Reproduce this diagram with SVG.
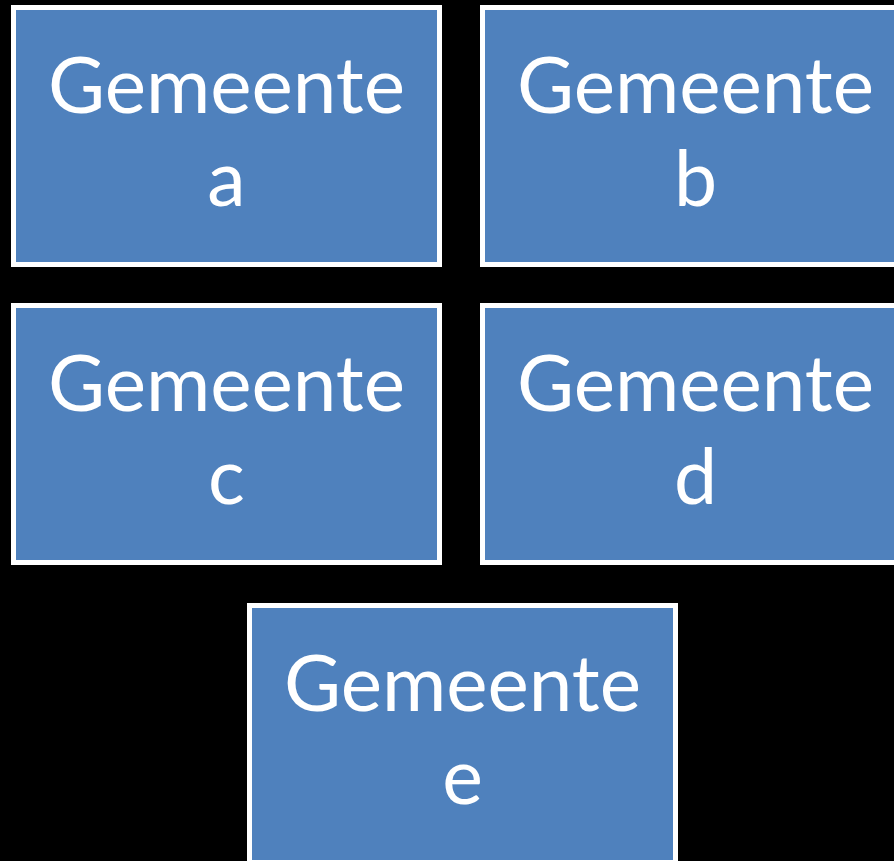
<svg xmlns="http://www.w3.org/2000/svg" width="894" height="861" viewBox="0 0 894 861">
<style>
.box{fill:#4F81BD;stroke:#FFFFFF;stroke-width:5}
.t{fill:#FFFFFF;font-family:Lato,"Open Sans","Liberation Sans",sans-serif;font-size:77px;text-anchor:middle}
</style>
<rect x="0" y="0" width="894" height="861" fill="#000000"/>
<g id="connectors"></g>
<g id="node-a">
<rect class="box" x="13.5" y="7.5" width="426" height="257"/>
<text class="t"><tspan x="226.5" y="113" textLength="357" lengthAdjust="spacingAndGlyphs">Gemeente</tspan><tspan x="226.5" y="206">a</tspan></text>
</g>
<g id="node-b">
<rect class="box" x="482.5" y="7.5" width="426" height="257"/>
<text class="t"><tspan x="695.5" y="113" textLength="357" lengthAdjust="spacingAndGlyphs">Gemeente</tspan><tspan x="695.5" y="206">b</tspan></text>
</g>
<g id="node-c">
<rect class="box" x="13.5" y="305.5" width="426" height="257"/>
<text class="t"><tspan x="226.5" y="411" textLength="357" lengthAdjust="spacingAndGlyphs">Gemeente</tspan><tspan x="226.5" y="504">c</tspan></text>
</g>
<g id="node-d">
<rect class="box" x="482.5" y="305.5" width="426" height="257"/>
<text class="t"><tspan x="695.5" y="411" textLength="357" lengthAdjust="spacingAndGlyphs">Gemeente</tspan><tspan x="695.5" y="504">d</tspan></text>
</g>
<g id="node-e">
<rect class="box" x="249.5" y="605.5" width="426" height="257"/>
<text class="t"><tspan x="462.5" y="711" textLength="357" lengthAdjust="spacingAndGlyphs">Gemeente</tspan><tspan x="462.5" y="804">e</tspan></text>
</g>
</svg>
